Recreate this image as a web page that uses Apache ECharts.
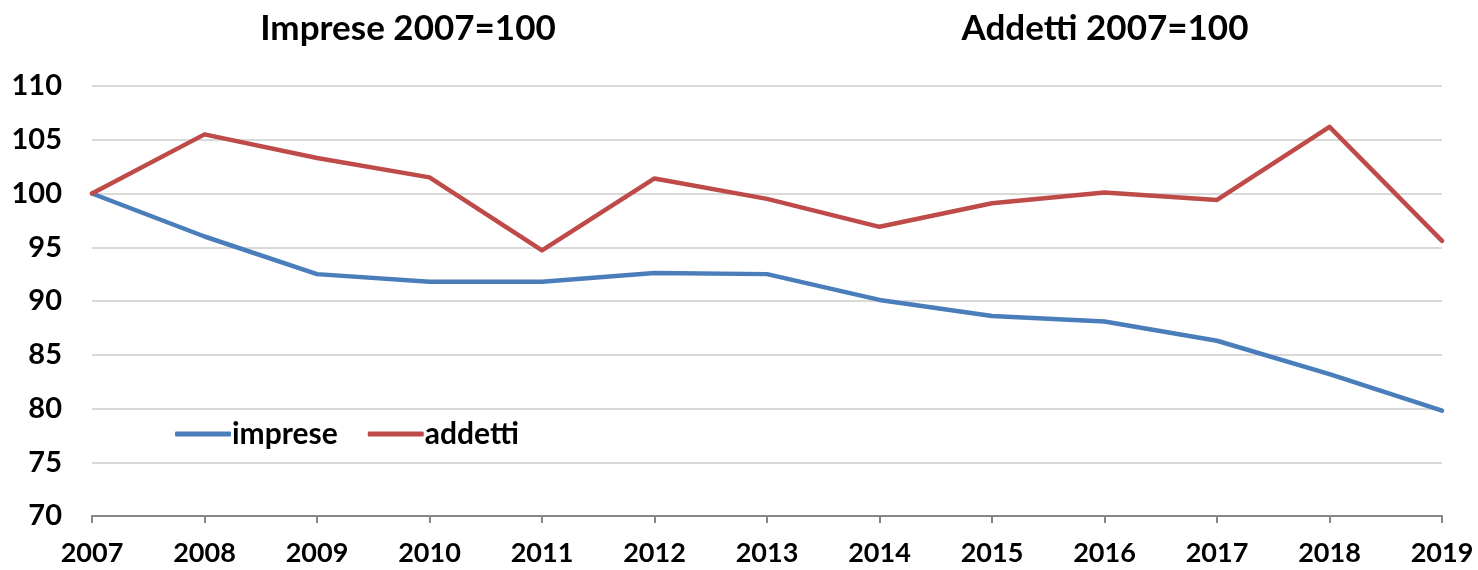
<!DOCTYPE html>
<html>
<head>
<meta charset="utf-8">
<script src="https://cdn.jsdelivr.net/npm/echarts@6/dist/echarts.min.js"></script>
<style>
  html, body { margin: 0; padding: 0; background: #fff; }
  #chart { width: 1478px; height: 570px; }
</style>
</head>
<body>
<div id="chart"></div>
<script>
// dati
const anni = ['2007', '2008', '2009', '2010', '2011', '2012', '2013', '2014', '2015', '2016', '2017', '2018', '2019']
const imprese = [100, 96.0, 92.5, 91.8, 91.8, 92.6, 92.5, 90.1, 88.6, 88.1, 86.3, 83.2, 79.8]
const addetti = [100, 105.5, 103.3, 101.5, 94.7, 101.4, 99.5, 96.9, 99.1, 100.1, 99.4, 106.2, 95.6]

const font = 'Lato, "Open Sans", sans-serif'
const chart = echarts.init(document.getElementById('chart'))

const option = {
  animation: false,
  title: [
    { text: 'Imprese 2007=100', left: 403, top: 6, textAlign: 'center',
      textStyle: { fontFamily: font, fontSize: 35, fontWeight: 'bold', color: '#000' } },
    { text: 'Addetti 2007=100', left: 1100, top: 6, textAlign: 'center',
      textStyle: { fontFamily: font, fontSize: 35, fontWeight: 'bold', color: '#000' } }
  ],
  legend: {
    left: 175,
    top: 419,
    padding: 0,
    itemWidth: 56,
    itemHeight: 5,
    itemGap: 30,
    icon: 'roundRect',
    textStyle: { fontFamily: font, fontSize: 30, fontWeight: 'bold', color: '#000', padding: [0, 0, 0, -4] },
    data: ['imprese', 'addetti']
  },
  grid: { left: 92, right: 36, top: 86, bottom: 54, containLabel: false },
  xAxis: {
    type: 'category',
    boundaryGap: false,
    data: anni,
    axisLine: { lineStyle: { color: '#868686', width: 2 } },
    axisTick: { show: true, length: 7, lineStyle: { color: '#868686', width: 2 } },
    axisLabel: { fontFamily: font, fontSize: 27, fontWeight: 'bold', color: '#000', margin: 24, interval: 0 },
    splitLine: { show: false }
  },
  yAxis: {
    type: 'value',
    min: 70,
    max: 110,
    interval: 5,
    axisLine: { show: false },
    axisTick: { show: false },
    axisLabel: { fontFamily: font, fontSize: 29, fontWeight: 'bold', color: '#000', margin: 30 },
    splitLine: { lineStyle: { color: '#d9d9d9', width: 2 } }
  },
  series: [
    {
      name: 'imprese',
      type: 'line',
      data: imprese,
      showSymbol: false,
      lineStyle: { width: 4.5, color: '#4A7EBB', cap: 'round', join: 'round' },
      itemStyle: { color: '#4A7EBB' }
    },
    {
      name: 'addetti',
      type: 'line',
      data: addetti,
      showSymbol: false,
      lineStyle: { width: 4.5, color: '#BE4B48', cap: 'round', join: 'round' },
      itemStyle: { color: '#BE4B48' }
    }
  ]
}
chart.setOption(option)
</script>
</body>
</html>
